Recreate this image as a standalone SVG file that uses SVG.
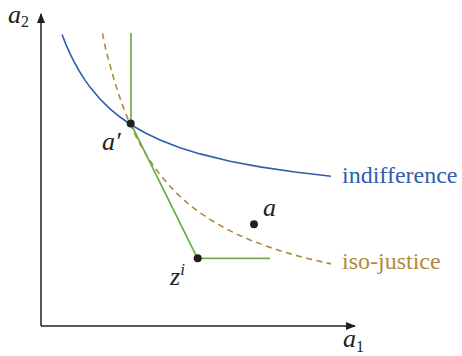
<svg xmlns="http://www.w3.org/2000/svg" width="462" height="356" viewBox="0 0 462 356">
<defs>
<style>
.ax{stroke:#231f20;stroke-width:1.5;fill:none}
.ind{stroke:#2f5db0;stroke-width:1.6;fill:none}
.iso{stroke:#b08a3c;stroke-width:1.6;fill:none;stroke-dasharray:6 4.5}
.bud{stroke:#6cb04a;stroke-width:1.7;fill:none}
.dot{fill:#231f20}
.m{font-family:"Liberation Serif","DejaVu Serif",serif;font-style:italic;font-size:26px;fill:#231f20}
.sub{font-family:"Liberation Serif","DejaVu Serif",serif;font-size:16px;fill:#231f20}
.lb{font-family:"Liberation Serif","DejaVu Serif",serif;font-size:24px}
</style>
<marker id="arr" viewBox="0 0 10 10" refX="9" refY="5" markerWidth="10" markerHeight="10" markerUnits="userSpaceOnUse" orient="auto">
<path d="M0,1 L10,5 L0,9 Z" fill="#231f20"/>
</marker>
</defs>
<g id="axes">
<path class="ax" d="M41,326 L41,14" marker-end="url(#arr)"/>
<path class="ax" d="M41,326 L355,326" marker-end="url(#arr)"/>
</g>
<g id="connectors">
<path id="indifference-curve" class="ind" d="M62,34.5 L66,44.6 L70,53.6 L75,63.5 L80,72.3 L85,80.1 L90,87.1 L100,99 L110,108.8 L120,117 L131,124.7 L145,132.8 L160,140 L180,147.7 L200,153.9 L230,161.2 L260,166.9 L295,172 L331,176.2"/>
<path id="iso-justice-curve" class="iso" d="M102.5,33.3 L106,50.7 L110,65.1 L114,79.4 L118,92.2 L122,103.8 L126,114.2 L131,126 L135,134.5 L140,144.2 L145,152.9 L152,163.8 L160,174.7 L170,186.3 L180,196.5 L190,205.2 L200,212.8 L212,220.7 L225,228.2 L237,234.2 L250,239.9 L265,245.6 L280,250.7 L295,255.1 L310,259.1 L331,263.9"/>
<path id="budget" class="bud" d="M131,33 L131,124 L197.5,258.3 L270,258.3"/>
</g>
<g id="node-aprime">
<circle class="dot" cx="130.7" cy="123.5" r="4"/>
<text class="m" x="102" y="150">a′</text>
</g>
<g id="node-a">
<circle class="dot" cx="254" cy="224.3" r="4"/>
<text class="m" x="263" y="216">a</text>
</g>
<g id="node-zi">
<circle class="dot" cx="197.7" cy="258.3" r="4"/>
<text class="m" x="170" y="285">z<tspan font-size="17" dy="-10">i</tspan></text>
</g>
<g id="label-a2">
<text class="m" x="8" y="23" font-size="22">a<tspan class="sub" font-style="normal" font-size="14" dy="4">2</tspan></text>
</g>
<g id="label-a1">
<text class="m" x="343" y="347">a<tspan class="sub" font-style="normal" dy="5">1</tspan></text>
</g>
<g id="label-indifference">
<text class="lb" x="342" y="183" fill="#2f5db0">indifference</text>
</g>
<g id="label-iso-justice">
<text class="lb" x="342" y="269" fill="#b08a3c">iso-justice</text>
</g>
</svg>
